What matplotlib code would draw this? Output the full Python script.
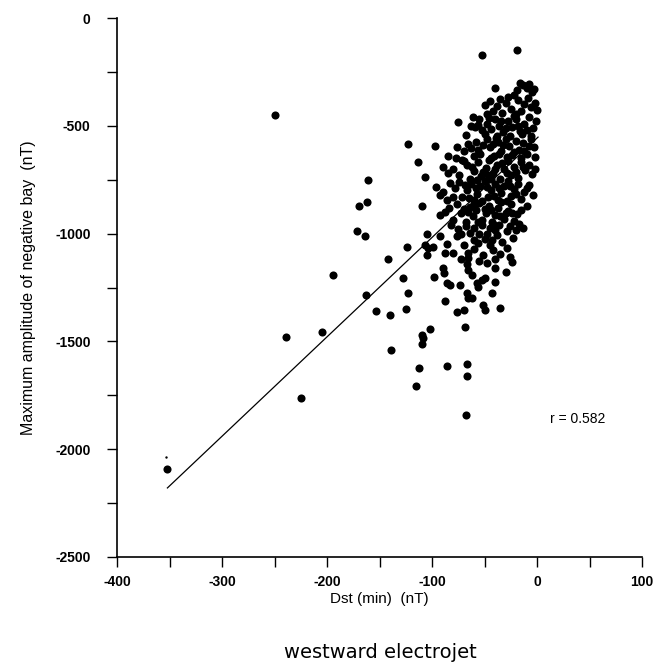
import numpy as np
import matplotlib
matplotlib.use("Agg")
import matplotlib.pyplot as plt
from matplotlib.ticker import MultipleLocator

### DATA ###
# Dst(min) [nT], max amplitude of negative bay [nT]
pts = [
    # top edge
    (-52, -172), (-19, -148), (-40, -325), (-13, -311), (-10, -325), (-5, -343),
    (-19, -334), (-16, -300), (-8, -305), (-3, -330), (-22, -355),
    # -350 .. -450
    (-50, -403), (0, -427), (-45, -385), (-38, -410), (-30, -395), (-25, -420),
    (-18, -380), (-12, -400), (-6, -415), (-33, -440), (-20, -445), (-42, -430),
    (-28, -365), (-9, -370), (-2, -395), (-35, -375), (-15, -430), (-48, -445),
    # -450 .. -550
    (-61, -459), (-63, -501), (-59, -505), (-75, -482), (-68, -543), (-55, -470),
    (-48, -490), (-44, -515), (-40, -470), (-36, -500), (-32, -530), (-28, -480),
    (-24, -505), (-20, -470), (-16, -525), (-12, -490), (-8, -460), (-4, -510),
    (-1, -480), (-50, -540), (-38, -545), (-26, -548), (-14, -540), (-6, -545),
    (-22, -455), (-52, -520), (-46, -465), (-34, -480), (-30, -510), (-18, -500),
    (-10, -520), (-56, -495),
    # -550 .. -650
    (-123, -585), (-97, -594), (-113, -668), (-76, -600), (-70, -615), (-63, -605),
    (-77, -650), (-71, -658), (-85, -640), (-58, -575), (-54, -630), (-48, -560),
    (-45, -600), (-41, -640), (-37, -575), (-34, -615), (-30, -560), (-27, -595),
    (-24, -635), (-20, -570), (-17, -610), (-13, -580), (-10, -630), (-6, -560),
    (-3, -600), (-2, -645), (-51, -590), (-39, -555), (-29, -645), (-15, -650),
    (-8, -595), (-44, -650), (-60, -640), (-66, -585), (-56, -610), (-42, -585),
    (-32, -590), (-22, -620), (-12, -615), (-36, -630),
    # -650 .. -750
    (-107, -737), (-85, -719), (-11, -705), (-90, -690), (-80, -700), (-74, -730),
    (-67, -680), (-64, -745), (-60, -710), (-56, -670), (-53, -735), (-49, -695),
    (-46, -660), (-42, -720), (-38, -680), (-35, -745), (-31, -700), (-28, -665),
    (-25, -730), (-22, -690), (-18, -740), (-15, -670), (-8, -680), (-5, -725),
    (-2, -700), (-57, -750), (-44, -748), (-33, -672), (-20, -715), (-70, -665),
    (-62, -690), (-51, -715), (-40, -700), (-29, -720), (-13, -690), (-47, -730),
    # -750 .. -850
    (-161, -752), (-162, -853), (-96, -784), (-83, -765), (-90, -807), (-92, -821),
    (-86, -844), (-78, -790), (-74, -760), (-71, -830), (-67, -800), (-63, -770),
    (-60, -845), (-57, -815), (-54, -780), (-50, -755), (-47, -830), (-44, -800),
    (-40, -770), (-37, -845), (-34, -810), (-31, -780), (-28, -755), (-25, -825),
    (-22, -795), (-18, -770), (-15, -840), (-12, -805), (-8, -775), (-4, -820),
    (-65, -835), (-52, -850), (-41, -825), (-29, -848), (-20, -815), (-80, -830),
    (-69, -775), (-58, -790), (-48, -785), (-36, -790), (-26, -780), (-10, -790),
    # -850 .. -950
    (-170, -872), (-110, -872), (-92, -914), (-15, -890), (-84, -880), (-80, -935),
    (-76, -865), (-72, -905), (-68, -945), (-64, -875), (-61, -920), (-58, -890),
    (-55, -860), (-52, -935), (-49, -905), (-46, -870), (-43, -945), (-40, -915),
    (-37, -880), (-34, -855), (-31, -930), (-28, -895), (-25, -865), (-22, -940),
    (-19, -910), (-10, -870), (-66, -900), (-44, -890), (-30, -905), (-56, -948),
    (-88, -900), (-70, -885), (-50, -885), (-35, -920), (-24, -905), (-60, -865),
    # -950 .. -1050
    (-171, -988), (-164, -1011), (-105, -1002), (-92, -1011), (-76, -1011),
    (-13, -974), (-70, -1053), (-56, -1044), (-43, -1030), (-38, -1006),
    (-86, -1048), (-82, -960), (-75, -980), (-68, -965), (-64, -995), (-60, -1030),
    (-52, -960), (-48, -1000), (-45, -975), (-36, -960), (-33, -1040), (-29, -990),
    (-26, -965), (-23, -1020), (-20, -985), (-17, -955), (-60, -975), (-50, -1025),
    (-40, -985), (-72, -1000), (-55, -1000), (-42, -955),
    # -1050 .. -1150
    (-124, -1062), (-107, -1053), (-104, -1067), (-99, -1062), (-88, -1090),
    (-80, -1090), (-66, -1090), (-66, -1115), (-67, -1140), (-105, -1099),
    (-142, -1118), (-51, -1099), (-48, -1136), (-45, -1053), (-42, -1076),
    (-29, -1067), (-26, -1108), (-24, -1132), (-60, -1070), (-55, -1125),
    (-35, -1095), (-72, -1120), (-40, -1120),
    # -1150 .. -1250
    (-66, -1170), (-40, -1160), (-128, -1206), (-98, -1201), (-90, -1160),
    (-89, -1183), (-86, -1229), (-83, -1240), (-73, -1238), (-57, -1229),
    (-52, -1215), (-50, -1206), (-56, -1248), (-40, -1224), (-194, -1192),
    (-30, -1180), (-62, -1190),
    # -1250 .. -1350
    (-123, -1275), (-163, -1285), (-67, -1275), (-66, -1298), (-62, -1298),
    (-43, -1275), (-51, -1331), (-50, -1354), (-35, -1345), (-88, -1312),
    (-125, -1350), (-153, -1359),
    # outliers / tail
    (-76, -1364), (-70, -1354), (-69, -1433), (-140, -1377), (-102, -1442),
    (-110, -1470), (-109, -1484), (-110, -1512), (-139, -1540), (-205, -1456),
    (-239, -1480), (-112, -1623), (-86, -1614), (-67, -1605), (-67, -1660),
    (-115, -1707), (-68, -1841), (-225, -1762), (-352, -2092), (-250, -450),
]
dst = np.array([p[0] for p in pts])
amp = np.array([p[1] for p in pts])

# one tiny dot above the lowest point
small_dst = [-353]
small_amp = [-2036]

# regression line as drawn
fit_slope = 4.61
fit_intercept = -557
fit_x = [-352, 1]
r_text = "r = 0.582"

### PLOT ###
plt.rcParams['font.family'] = ['Liberation Sans', 'DejaVu Sans']
plt.rcParams['axes.unicode_minus'] = False
fig = plt.figure(figsize=(6.56, 6.63), dpi=100)
ax = fig.add_axes([117/656, 1 - 557/663, 525/656, 539/663])

ax.scatter(dst, amp, s=34, color='black', linewidths=0, zorder=3)
ax.scatter(small_dst, small_amp, s=3, color='black', linewidths=0, zorder=3)
fx = np.array(fit_x)
ax.plot(fx, fit_slope * fx + fit_intercept, color='black', lw=0.9)

ax.text(12, -1860, r_text, fontsize=10, va='center', ha='left')

ax.set_xlim(-400, 100)
ax.set_ylim(-2500, 0)
ax.xaxis.set_major_locator(MultipleLocator(100))
ax.xaxis.set_minor_locator(MultipleLocator(50))
ax.yaxis.set_major_locator(MultipleLocator(500))
ax.yaxis.set_minor_locator(MultipleLocator(250))
ax.tick_params(which='both', direction='out', length=7, width=1, labelsize=10)
ax.tick_params(axis='y', pad=12)
ax.tick_params(axis='x', pad=6)
for lab in ax.get_xticklabels() + ax.get_yticklabels():
    lab.set_fontweight('bold')
ax.spines['top'].set_visible(False)
ax.spines['right'].set_visible(False)
ax.spines['left'].set_linewidth(1.2)
ax.spines['bottom'].set_linewidth(1.2)

ax.set_xlabel('Dst (min)  (nT)', fontsize=11, labelpad=2)
ax.set_ylabel('Maximum amplitude of negative bay  (nT)', fontsize=11.5, labelpad=14)
fig.text(380/656, 1 - 652/663, 'westward electrojet', fontsize=14,
         ha='center', va='center', family=['DejaVu Sans'])

fig.savefig('out.png', dpi=100)
